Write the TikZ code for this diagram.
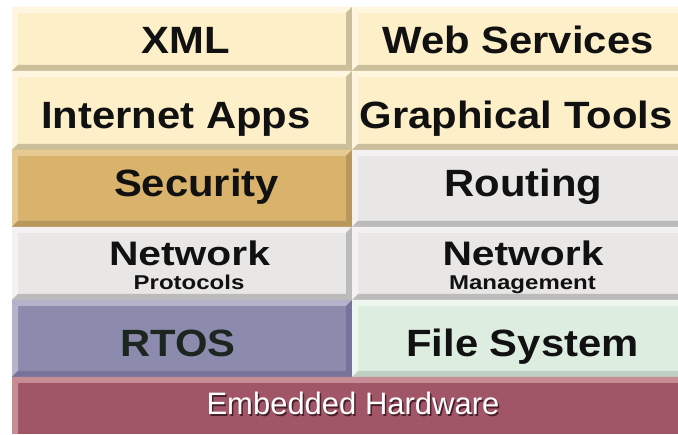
\documentclass[tikz,border=0pt]{standalone}
\usepackage{fontspec}
\setmainfont{Liberation Sans}
\definecolor{crF}{HTML}{FDEFC8}\definecolor{crL}{HTML}{FEF6DE}\definecolor{crD}{HTML}{CBBE9A}
\definecolor{seF}{HTML}{D9B36C}\definecolor{seL}{HTML}{E6CA92}\definecolor{seD}{HTML}{B8975C}
\definecolor{grF}{HTML}{E8E7E5}\definecolor{grL}{HTML}{F3F1F1}\definecolor{grD}{HTML}{BCBBBB}
\definecolor{rtF}{HTML}{8D8BAD}\definecolor{rtL}{HTML}{B5B3CB}\definecolor{rtD}{HTML}{76749A}
\definecolor{fsF}{HTML}{DDEEE1}\definecolor{fsL}{HTML}{EDF7F0}\definecolor{fsD}{HTML}{BFCFC3}
\definecolor{ehF}{HTML}{A05667}\definecolor{ehL}{HTML}{C68D94}\definecolor{ehD}{HTML}{7E3E4C}
\definecolor{txt}{HTML}{111111}\definecolor{rtT}{HTML}{1C2620}\definecolor{shd}{HTML}{4A2028}
\newcommand{\bevbox}[7]{%
  \fill[#5] (#1,#2) rectangle (#3,#4);
  \fill[#6] (#1,#2) -- (#3,#2) -- ({#3-6},{#2+6}) -- ({#1+6},{#2+6}) -- cycle;
  \fill[#6] (#1,#2) -- ({#1+6},{#2+6}) -- ({#1+6},{#4-6}) -- (#1,#4) -- cycle;
  \fill[#7] (#1,#4) -- ({#1+6},{#4-6}) -- ({#3-6},{#4-6}) -- (#3,#4) -- cycle;
  \fill[#7] (#3,#2) -- (#3,#4) -- ({#3-6},{#4-6}) -- ({#3-6},{#2+6}) -- cycle;
}
\tikzset{
  big/.style={font=\bfseries\fontsize{38}{38}\selectfont, text=txt, inner sep=0pt, anchor=base, xscale=1.1},
  mid/.style={font=\bfseries\fontsize{34}{34}\selectfont, text=txt, inner sep=0pt, anchor=base, xscale=1.2},
  sml/.style={font=\bfseries\fontsize{20}{20}\selectfont, text=txt, inner sep=0pt, anchor=base, xscale=1.2},
  hw/.style={font=\fontsize{31}{31}\selectfont, inner sep=0pt, anchor=base}
}
\begin{document}
\begin{tikzpicture}[x=1pt,y=-1pt]
\useasboundingbox (0,0) rectangle (678,435);
\clip (0,0) rectangle (678,433.5);
% left column
\bevbox{12}{7}{352}{71}{crF}{crL}{crD}
\bevbox{12}{71}{352}{150}{crF}{crL}{crD}
\bevbox{12}{150}{352}{227}{seF}{seL}{seD}
\bevbox{12}{227}{352}{300}{grF}{grL}{grD}
\bevbox{12}{300}{352}{377}{rtF}{rtL}{rtD}
% right column
\bevbox{352}{7}{684}{71}{crF}{crL}{crD}
\bevbox{352}{71}{684}{150}{crF}{crL}{crD}
\bevbox{352}{150}{684}{227}{grF}{grL}{grD}
\bevbox{352}{227}{684}{300}{grF}{grL}{grD}
\bevbox{352}{300}{684}{377}{fsF}{fsL}{fsD}
% hardware
\bevbox{12}{377}{684}{440}{ehF}{ehL}{ehD}
% labels
\node[big] (xml) at (185.5,54) {XML};
\node[big] (ws) at (518,54) {Web Services};
\node[big] (ia) at (176,129) {Internet Apps};
\node[big] (gt) at (516,129) {Graphical Tools};
\node[big] (sec) at (196.5,197) {Security};
\node[big] (rt) at (523.5,197) {Routing};
\node[mid] (netl) at (189.5,266) {Network};
\node[sml] (prot) at (189,290) {Protocols};
\node[mid] (netr) at (523,266) {Network};
\node[sml] (mgmt) at (522.5,290) {Management};
\node[big, text=rtT] (rtos) at (178,357) {RTOS};
\node[big] (fs) at (522.5,357) {File System};
\node[hw, text=shd] (ehs) at (354.5,416.5) {Embedded Hardware};
\node[hw, text=white] (eh) at (353,415) {Embedded Hardware};
\end{tikzpicture}
\end{document}
